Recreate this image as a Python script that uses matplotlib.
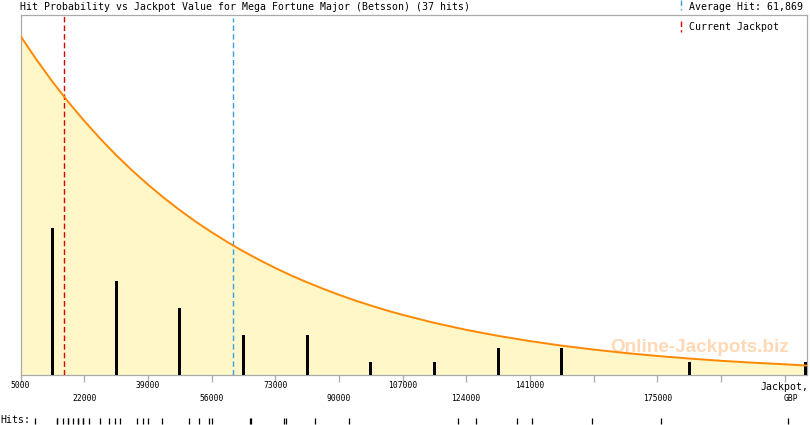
import matplotlib
matplotlib.use("Agg")
import matplotlib.pyplot as plt
from matplotlib.lines import Line2D

# ---------------- data ----------------
title = "Hit Probability vs Jackpot Value for Mega Fortune Major (Betsson) (37 hits)"
average_hit = 61869
current_jackpot = 16600

tick_values = [5000, 22000, 39000, 56000, 73000, 90000, 107000, 124000,
               141000, 158000, 175000, 192000, 209000]
row1_labels = {5000: "5000", 39000: "39000", 73000: "73000", 107000: "107000",
               141000: "141000"}
row2_labels = {22000: "22000", 56000: "56000", 90000: "90000", 124000: "124000",
               175000: "175000"}

# histogram bars (bin centres, hit counts)
bar_x = [13500, 30500, 47500, 64500, 81500, 98500, 115500, 132500, 149500,
         183500, 214600]
bar_counts = [11, 7, 5, 3, 3, 1, 1, 2, 2, 1, 1]

# probability curve (same units as bar heights)
curve_x = [5000, 9250, 13500, 17750, 22000, 26250, 30500, 34750, 39000,
           43250, 47500, 51750, 56000, 60250, 64500, 68750, 73000, 77250,
           81500, 85750, 90000, 94250, 98500, 102750, 107000,
           115500, 124000, 132500, 141000, 149500, 158000, 166500, 175000,
           183500, 192000, 200500, 209000, 215000]
curve_y = [25.30, 23.54, 21.90, 20.38, 18.97, 17.65, 16.42, 15.28, 14.22,
           13.23, 12.31, 11.45, 10.66, 9.92, 9.23, 8.59, 7.99, 7.43,
           6.92, 6.44, 5.99, 5.57, 5.19, 4.82, 4.49,
           3.89, 3.37, 2.92, 2.53, 2.19, 1.90, 1.64, 1.42,
           1.23, 1.06, 0.92, 0.80, 0.70]

# individual hits (rug)
hits = [8800, 14800, 14800, 16400, 17600, 17600, 19000, 20300, 20300, 21600,
        21600, 23300, 26200, 28500, 30100, 31700, 36000, 37600, 39100, 42700,
        50000, 52600, 55200, 56100, 66300, 66600, 75300, 75800, 83700, 92700,
        121700, 126500, 137500, 141500, 157700, 176100, 210000]

# ---------------- figure ----------------
plt.rcParams['lines.scale_dashes'] = False
W, H = 810, 425
fig = plt.figure(figsize=(W / 100, H / 100), dpi=100)
fig.patch.set_facecolor("white")

ax_l, ax_r, ax_t, ax_b = 20.5, 807, 15, 375
ax = fig.add_axes([ax_l / W, (H - ax_b) / H, (ax_r - ax_l) / W, (ax_b - ax_t) / H])
ax.set_xlim(5000, 215000)
ax.set_ylim(0, (ax_b - ax_t) / 13.4)

grey = "#AAAAAA"
for s in ax.spines.values():
    s.set_color(grey)
    s.set_linewidth(0.9)

ax.set_yticks([])
ax.set_xticks(tick_values)
ax.set_xticklabels([])
ax.tick_params(axis="x", length=5, width=0.9, color=grey, direction="out")

mono = "DejaVu Sans Mono"
red = "#DD0000"
blue = "#3AA0E0"
dash = (4.0, 2.2)

# fill + curve
ax.fill_between(curve_x, curve_y, 0, color="#FFF7C8", zorder=1, linewidth=0)
ax.plot(curve_x, curve_y, color="#FF8800", lw=1.4, zorder=5,
        solid_joinstyle="round")

# watermark
ax.text(186400, (ax_b - 347) / 13.4, "Online-Jackpots.biz", ha="center", va="center",
        fontsize=13.6, family="Liberation Sans", weight="bold", color="#FFD9B5",
        zorder=2)

# bars
ax.bar(bar_x, bar_counts, width=800, color="black", zorder=4, linewidth=0)

# reference lines
ax.axvline(current_jackpot, color=red, lw=1.0, dashes=dash, zorder=3, snap=True)
ax.axvline(average_hit, ymax=(ax_b - 18) / (ax_b - ax_t), color=blue, lw=1.0,
           dashes=dash, zorder=3, snap=True)

# tick labels in two rows
xt = ax.get_xaxis_transform()
for v, lab in row1_labels.items():
    ax.text(v, (ax_b - 386) / (ax_b - ax_t), lab, transform=xt, ha="center",
            va="center", fontsize=5.8, family=mono, color="black")
for v, lab in row2_labels.items():
    ax.text(v, (ax_b - 398.5) / (ax_b - ax_t), lab, transform=xt, ha="center",
            va="center", fontsize=5.8, family=mono, color="black")
ax.text(209000, (ax_b - 386.5) / (ax_b - ax_t), "Jackpot,", transform=xt,
        ha="center", va="center", fontsize=7.1, family=mono, color="black")
ax.text(210700, (ax_b - 398.5) / (ax_b - ax_t), "GBP", transform=xt,
        ha="center", va="center", fontsize=5.8, family=mono, color="black")

# rug of hits
ax.vlines(hits, (ax_b - 418) / (ax_b - ax_t), (ax_b - 424) / (ax_b - ax_t),
          transform=xt, color="black", lw=0.9, clip_on=False)
fig.text(0 / W, 1 - 420 / H, "Hits:", ha="left", va="center", fontsize=7.1,
         family=mono, color="black")

# title
fig.text(20.5 / W, 1 - 7.5 / H, title, ha="left", va="center", fontsize=7.1,
         family=mono, color="black")

# legend
fig.add_artist(Line2D([680.5 / W, 680.5 / W], [1 - 0 / H, 1 - 10 / H], color=blue,
                      lw=1.0, dashes=dash, snap=True))
fig.text(689 / W, 1 - 7 / H, "Average Hit: 61,869", ha="left", va="center",
         fontsize=7.1, family=mono, color="black")
fig.add_artist(Line2D([680.5 / W, 680.5 / W], [1 - 21 / H, 1 - 32 / H], color=red,
                      lw=1.0, dashes=dash, snap=True))
fig.text(689 / W, 1 - 27 / H, "Current Jackpot", ha="left", va="center",
         fontsize=7.1, family=mono, color="black")

fig.savefig("out.png", dpi=100, facecolor="white")
